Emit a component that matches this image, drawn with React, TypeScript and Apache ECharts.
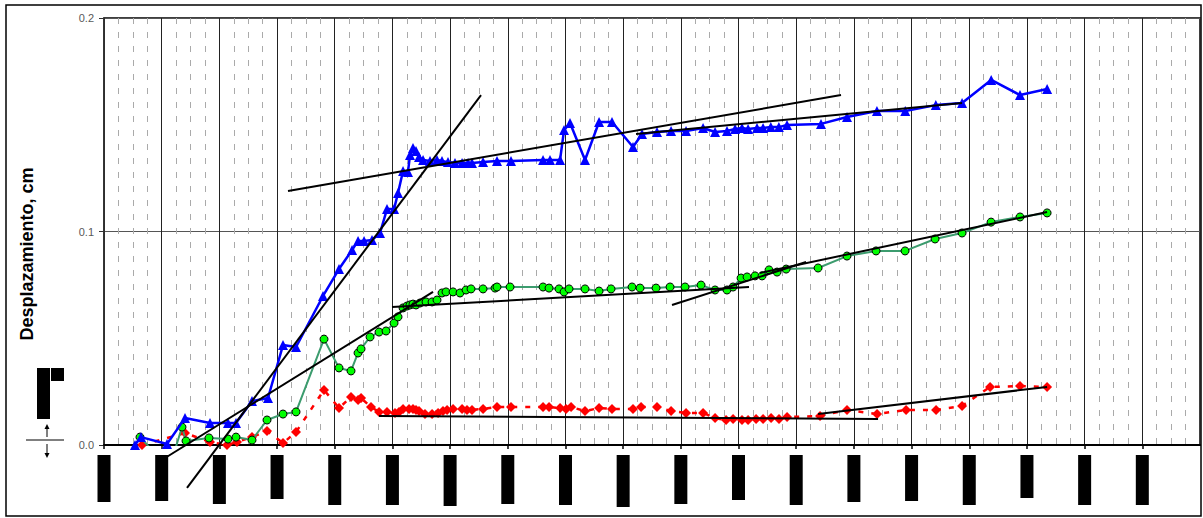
import React, { useEffect, useRef } from "react";
import * as echarts from "echarts";

// x-axis ticks (major every 10, 4 minor divisions)
const xTicks = [0, 10, 20, 30, 40, 50, 60, 70, 80, 90, 100, 110, 120, 130, 140, 150, 160, 170, 180, 190];
// lengths of the (redacted) tick-label boxes
const xLabelLen = [47, 46, 49, 44, 50, 50, 51, 49, 50, 52, 49, 45, 50, 47, 46, 50, 43, 50, 50];
const yTicks = [0, 0.1, 0.2];

const blueSeries: [number, number][] = [
  [5.37, 0], [6.41, 0.0037], [10.92, 0.0005], [14.04, 0.0126], [18.38, 0.0103], [21.5, 0.0103],
  [22.88, 0.0103], [25.66, 0.0206], [28.43, 0.022], [31.03, 0.0468], [33.29, 0.0459], [37.97, 0.0698],
  [40.74, 0.0824], [43.0, 0.0913], [44.04, 0.0956], [45.08, 0.0956], [46.46, 0.096], [47.85, 0.0993],
  [49.06, 0.1105], [50.28, 0.1105], [50.97, 0.118], [51.84, 0.1283], [52.7, 0.1279], [53.05, 0.1358],
  [53.57, 0.1391], [54.09, 0.1377], [54.61, 0.1349], [55.31, 0.1335], [56.52, 0.133], [57.73, 0.1335],
  [58.6, 0.133], [59.64, 0.1325], [60.85, 0.1321], [62.07, 0.1321], [63.11, 0.1321], [63.8, 0.1321],
  [65.71, 0.1325], [68.13, 0.133], [70.56, 0.133], [76.11, 0.1335], [77.32, 0.1335], [79.06, 0.1335],
  [79.75, 0.1475], [80.79, 0.1508], [83.39, 0.1335], [85.82, 0.1513], [88.07, 0.1513], [91.71, 0.1396],
  [93.27, 0.1457], [95.87, 0.1466], [98.3, 0.1471], [100.9, 0.1471], [103.85, 0.1485], [105.93, 0.1466],
  [108.0, 0.1471], [109.4, 0.148], [110.6, 0.1485], [111.65, 0.148], [113.2, 0.1485], [114.25, 0.1485],
  [115.6, 0.1489], [117.0, 0.1489], [118.4, 0.1499], [124.3, 0.1504], [128.8, 0.1536], [134.0, 0.1564],
  [138.9, 0.1564], [144.2, 0.1592], [148.75, 0.1602], [153.8, 0.171], [158.8, 0.1639], [163.5, 0.1667],
];

const greenSeries: [number, number][] = [
  [6.24, 0.0037], [8.32, -0.0023], [12.31, -0.0023], [13.52, 0.0084], [14.22, 0.0019], [18.2, 0.0033],
  [21.5, 0.0028], [22.88, 0.0037], [25.66, 0.0023], [28.26, 0.0117], [31.03, 0.0145], [33.29, 0.0155],
  [38.14, 0.0496], [40.74, 0.0361], [42.82, 0.0347], [44.04, 0.0431], [44.56, 0.045], [46.12, 0.0506],
  [47.68, 0.0529], [48.89, 0.0534], [50.28, 0.0571], [50.97, 0.06], [51.84, 0.0642], [52.53, 0.0651],
  [53.05, 0.0656], [53.57, 0.066], [54.09, 0.0656], [54.78, 0.0665], [55.83, 0.067], [56.87, 0.067],
  [57.73, 0.0679], [58.6, 0.0712], [59.29, 0.0717], [60.51, 0.0717], [61.72, 0.0712], [62.76, 0.0726],
  [63.63, 0.0731], [65.71, 0.0731], [67.79, 0.0735], [68.13, 0.074], [70.39, 0.074], [76.11, 0.074],
  [77.15, 0.0735], [78.88, 0.0731], [79.75, 0.0717], [80.62, 0.0731], [83.39, 0.0731], [85.82, 0.0721],
  [87.9, 0.0731], [91.54, 0.074], [92.93, 0.0735], [95.7, 0.0735], [98.13, 0.074], [100.73, 0.074],
  [103.5, 0.0749], [105.93, 0.0726], [108.0, 0.0726], [109.05, 0.074], [110.44, 0.0782], [111.48, 0.0787],
  [112.86, 0.0792], [114.08, 0.0792], [115.29, 0.082], [116.68, 0.081], [118.25, 0.0824], [123.79, 0.0829],
  [128.8, 0.0885], [133.84, 0.0909], [138.87, 0.0909], [144.07, 0.0965], [148.75, 0.0993], [153.78, 0.1044],
  [158.8, 0.1068], [163.49, 0.1087],
];

const redSeries: [number, number][] = [
  [6.59, 0], [14.04, 0.0056], [18.38, 0.0014], [21.32, 0.0], [23.06, 0.0014], [25.66, 0.0037],
  [28.26, 0.0066], [31.03, 0.0009], [33.29, 0.0061], [38.14, 0.0258], [40.74, 0.0173], [42.82, 0.0225],
  [44.04, 0.0211], [44.56, 0.022], [46.29, 0.0178], [47.68, 0.0155], [49.06, 0.0155], [50.45, 0.015],
  [51.14, 0.0155], [51.84, 0.0169], [52.88, 0.0169], [53.57, 0.0169], [54.09, 0.0164], [54.61, 0.0159],
  [55.65, 0.0145], [56.87, 0.0145], [57.91, 0.015], [58.77, 0.0159], [59.47, 0.0164], [60.51, 0.0169],
  [62.07, 0.0169], [62.93, 0.0164], [63.8, 0.0164], [65.71, 0.0169], [68.13, 0.0178], [70.56, 0.0178],
  [76.11, 0.0178], [77.15, 0.0178], [79.06, 0.0173], [80.1, 0.0169], [80.97, 0.0178], [83.39, 0.0159],
  [85.82, 0.0173], [88.07, 0.0169], [91.71, 0.0169], [93.1, 0.0178], [95.87, 0.0178], [98.3, 0.0159],
  [100.9, 0.015], [103.85, 0.015], [105.93, 0.0126], [107.84, 0.0117], [109.05, 0.0122], [110.6, 0.0117],
  [111.65, 0.0117], [113.04, 0.0122], [114.25, 0.0122], [115.64, 0.0126], [117.02, 0.0122], [118.41, 0.0131],
  [124.13, 0.0136], [128.81, 0.0164], [134.02, 0.0145], [139.04, 0.0164], [144.24, 0.0164], [148.75, 0.0183],
  [153.61, 0.0272], [158.8, 0.0276], [163.49, 0.0272],
];

// straight fitted lines (start, end)
const trendLines: [number, number][][] = [
  [[14.39, -0.0201], [65.36, 0.1639]],
  [[10.58, -0.0061], [57.04, 0.0717]],
  [[31.9, 0.119], [127.77, 0.1639]],
  [[92.23, 0.1457], [148.75, 0.1602]],
  [[49.93, 0.0646], [111.82, 0.074]],
  [[98.47, 0.0656], [121.71, 0.0857]],
  [[113.73, 0.0806], [163.49, 0.1091]],
  [[47.68, 0.0136], [134.19, 0.0122]],
  [[123.79, 0.0145], [163.49, 0.0272]],
];

const yTitle = "Desplazamiento, cm";

export default function App() {
  const ref = useRef<HTMLDivElement>(null);
  useEffect(() => {
    if (!ref.current) return;
    const chart = echarts.init(ref.current, null, { renderer: "svg" });
    const rich: Record<string, any> = {};
    xLabelLen.forEach((len, i) => {
      rich["b" + i] = {
        width: len,
        height: 13,
        lineHeight: 13,
        backgroundColor: "#000",
        color: "#000",
        fontSize: 10,
        align: "left",
      };
    });
    const font = '"Liberation Sans", Arial, sans-serif';
    const option: any = {
      animation: false,
      backgroundColor: "#fff",
      grid: {
        left: 104,
        right: 3,
        top: 18,
        bottom: 73,
        show: true,
        borderColor: "#000",
        borderWidth: 1.5,
        backgroundColor: "transparent",
      },
      xAxis: {
        type: "value",
        min: xTicks[0],
        max: xTicks[xTicks.length - 1],
        interval: 10,
        axisLine: { show: true, lineStyle: { color: "#000", width: 2 } },
        axisTick: { show: true, inside: false, length: 4, lineStyle: { color: "#000", width: 1.5 } },
        splitLine: { show: true, lineStyle: { color: "#222", width: 1 } },
        minorTick: { show: false, splitNumber: 4 },
        minorSplitLine: { show: true, lineStyle: { color: "#aaa", width: 1, type: [6, 8] } },
        axisLabel: {
          show: true,
          rotate: 90,
          margin: 10,
          showMaxLabel: false,
          formatter: (v: number) => {
            const i = xTicks.indexOf(Math.round(v));
            if (i < 0 || i >= xLabelLen.length) return "";
            return "{b" + i + "|" + v + "}";
          },
          rich,
        },
      },
      yAxis: {
        type: "value",
        min: yTicks[0],
        max: yTicks[yTicks.length - 1],
        interval: 0.1,
        axisLine: { show: true, lineStyle: { color: "#333", width: 1.5 } },
        axisTick: { show: true, inside: false, length: 5, lineStyle: { color: "#333" } },
        splitLine: { show: true, lineStyle: { color: "#555", width: 1 } },
        axisLabel: {
          color: "#595959",
          fontSize: 11,
          fontFamily: font,
          margin: 10,
          formatter: (v: number) => v.toFixed(1),
        },
      },
      series: [
        {
          type: "line",
          data: redSeries,
          symbol: "diamond",
          symbolSize: 10,
          lineStyle: { color: "#ff0000", width: 2.5, type: [5, 8] },
          itemStyle: { color: "#ff0000" },
          z: 3,
        },
        {
          type: "line",
          data: greenSeries,
          symbol: "circle",
          symbolSize: 8,
          lineStyle: { color: "#3c9c6e", width: 2 },
          itemStyle: { color: "#00ff00", borderColor: "#000", borderWidth: 1 },
          z: 4,
        },
        {
          type: "line",
          data: blueSeries,
          symbol: "triangle",
          symbolSize: 10,
          lineStyle: { color: "#0000ff", width: 2.5 },
          itemStyle: { color: "#0000ff" },
          z: 5,
        },
        ...trendLines.map((seg) => ({
          type: "line",
          data: seg,
          symbol: "none",
          clip: false,
          lineStyle: { color: "#000", width: 2 },
          z: 6,
        })),
      ],
      graphic: [
        {
          type: "rect",
          shape: { x: 6, y: 5, width: 1195, height: 511 },
          style: { fill: "none", stroke: "#000", lineWidth: 1.5 },
          silent: true,
        },
        {
          type: "text",
          x: 27,
          y: 254,
          rotation: Math.PI / 2,
          style: {
            text: yTitle,
            fontSize: 18,
            fontWeight: "bold",
            fontFamily: font,
            fill: "#000",
            align: "center",
            verticalAlign: "middle",
          },
        },
        { type: "rect", shape: { x: 37, y: 368, width: 13, height: 51 }, style: { fill: "#000" } },
        { type: "rect", shape: { x: 51, y: 368, width: 13, height: 13 }, style: { fill: "#000" } },
        { type: "line", shape: { x1: 26, y1: 440, x2: 64, y2: 440 }, style: { stroke: "#000", lineWidth: 1 } },
        { type: "line", shape: { x1: 47, y1: 427, x2: 47, y2: 437 }, style: { stroke: "#000", lineWidth: 1 } },
        { type: "polygon", shape: { points: [[44.5, 429], [47, 424], [49.5, 429]] }, style: { fill: "#000" } },
        { type: "line", shape: { x1: 47, y1: 444, x2: 47, y2: 455 }, style: { stroke: "#000", lineWidth: 1 } },
        { type: "polygon", shape: { points: [[44.5, 453], [47, 458], [49.5, 453]] }, style: { fill: "#000" } },
      ],
    };
    chart.setOption(option);
    return () => chart.dispose();
  }, []);
  return (
    <div
      ref={ref}
      style={{ position: "fixed", left: 0, top: 0, width: 1203, height: 518 }}
    />
  );
}
